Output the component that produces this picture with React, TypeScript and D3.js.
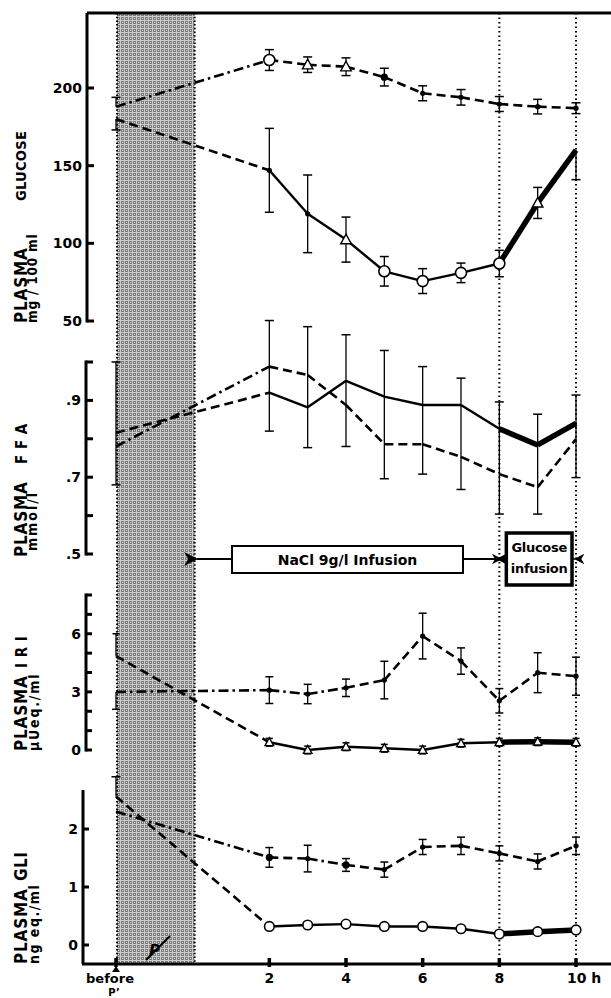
import React from 'react';
import * as d3 from 'd3';

// ---------- DATA ----------
// hour -2 stands for the "before P" sample
const hours = [-2, 2, 3, 4, 5, 6, 7, 8, 9, 10];
const xTickValues = [-2, 2, 4, 6, 8, 10];
const xTickLabels = ['before', '2', '4', '6', '8', '10'];

// Plasma glucose (mg/100 ml)
const glucoseUpper = [188, 218, 215, 213.7, 207, 196.6, 194, 189.7, 188, 187];
const glucoseUpperErrUp = [6, 6.7, 5, 5.7, 5.7, 4.8, 5, 4.8, 4.7, 3.5];
const glucoseUpperErrDown = [0, 6.7, 5, 5.7, 5.7, 4.8, 5, 4.8, 4.7, 3.5];
const glucoseUpperMarkers = ['none', 'circle', 'triangle', 'triangle', 'star', 'dot', 'dot', 'dot', 'dot', 'dot'];

const glucoseLower = [180, 147, 119, 102.4, 82, 75.7, 81, 87, 126, 160];
const glucoseLowerErrUp = [0, 27, 25, 14.5, 9.5, 8, 6.3, 8.5, 10, 0];
const glucoseLowerErrDown = [7, 27, 25, 14.5, 9.5, 8, 6.3, 8.5, 10, 19];
const glucoseLowerMarkers = ['none', 'dot', 'dot', 'triangle', 'circle', 'circle', 'circle', 'circle', 'triangle', 'none'];

// Plasma FFA (mmol/l)
const ffaSolid = [0.816, 0.92, 0.882, 0.951, 0.91, 0.888, 0.888, 0.826, 0.784, 0.84];
const ffaSolidErrUp = [0.184, 0, 0, 0.12, 0.12, 0.1, 0.07, 0.07, 0.08, 0.074];
const ffaSolidErrDown = [0, 0.1, 0.105, 0, 0, 0, 0, 0, 0, 0];
const ffaDashed = [0.78, 0.988, 0.966, 0.888, 0.786, 0.786, 0.753, 0.708, 0.674, 0.799];
const ffaDashedErrUp = [0, 0.12, 0.126, 0, 0, 0, 0, 0, 0, 0];
const ffaDashedErrDown = [0.1, 0, 0, 0.108, 0.09, 0.078, 0.085, 0.104, 0.07, 0.1];

// Plasma IRI (µUeq./ml)
const iriDots = [3.0, 3.09, 2.89, 3.21, 3.61, 5.88, 4.59, 2.54, 3.99, 3.81];
const iriDotsErrUp = [0, 0.69, 0.5, 0.45, 0.97, 1.18, 0.68, 0.63, 1.03, 0.98];
const iriDotsErrDown = [0.9, 0.69, 0.5, 0.45, 0.97, 1.18, 0.68, 0.63, 1.03, 0.98];
const iriDotsMarkers = ['none', 'dot', 'dot', 'dot', 'dot', 'dot', 'dot', 'dot', 'dot', 'dot'];
const iriTri = [4.85, 0.4, 0.0, 0.17, 0.09, 0.0, 0.35, 0.4, 0.43, 0.4];
const iriTriErrUp = [1.15, 0.2, 0.2, 0.2, 0.2, 0.2, 0.2, 0.2, 0.2, 0.2];
const iriTriErrDown = [0, 0.2, 0.2, 0.2, 0.2, 0.2, 0.2, 0.2, 0.2, 0.2];
const iriTriMarkers = ['none', 'triangle', 'triangle', 'triangle', 'triangle', 'triangle', 'triangle', 'triangle', 'triangle', 'triangle'];

// Plasma GLI (ng eq./ml)
const gliDots = [2.3, 1.51, 1.49, 1.38, 1.3, 1.69, 1.71, 1.58, 1.44, 1.71];
const gliDotsErr = [0, 0.17, 0.23, 0.11, 0.13, 0.13, 0.15, 0.13, 0.13, 0.15];
const gliDotsMarkers = ['none', 'star', 'dot', 'star', 'dot', 'dot', 'dot', 'dot', 'dot', 'dot'];
const gliCircles = [2.56, 0.32, 0.345, 0.36, 0.32, 0.32, 0.28, 0.19, 0.23, 0.26];
const gliCirclesErrUp = [0.34, 0, 0, 0, 0, 0, 0, 0, 0, 0];
const gliCirclesMarkers = ['none', 'circle', 'circle', 'circle', 'circle', 'circle', 'circle', 'circle', 'circle', 'circle'];

// line style of each segment between consecutive samples
const segUpperDash = ['dashdot', 'dash', 'dash', 'dash', 'dash', 'dash', 'dash', 'dash', 'dash'];
const segLowerSolid = ['dash', 'thin', 'thin', 'thin', 'thin', 'thin', 'thin', 'thick', 'thick'];
const segIriDots = ['dashdot', 'dashdot', 'dashdot', 'dash', 'dash', 'dash', 'dash', 'dash', 'dash'];
const segGliDots = ['dashdot', 'dash', 'dashdot', 'dash', 'dash', 'dash', 'dash', 'dash', 'dash'];

// ---------- LAYOUT ----------
const W = 611;
const H = 998;
const FONT = "'DejaVu Sans', 'Liberation Sans', sans-serif";
const LFONT = "'DejaVu Sans Condensed', 'DejaVu Sans', sans-serif";

const x = d3.scaleLinear().domain([-2, 10]).range([116, 576]);
const yGlu = d3.scaleLinear().domain([50, 200]).range([321, 88]);
const yFfa = d3.scaleLinear().domain([0.5, 1.0]).range([554, 362]);
const yIri = d3.scaleLinear().domain([0, 8]).range([750, 595]);
const yGli = d3.scaleLinear().domain([0, 2]).range([945, 829]);

const TOP = 13;
const XAXIS_Y = 964;

const styleOf = (s: string) => {
  switch (s) {
    case 'dash':
      return { w: 2.6, dash: '9,5' };
    case 'dashdot':
      return { w: 2.6, dash: '10,4,2.5,4' };
    case 'thick':
      return { w: 5.5, dash: undefined };
    default:
      return { w: 2.4, dash: undefined };
  }
};

function Marker({ type, cx, cy, size }: { type: string; cx: number; cy: number; size: number }) {
  if (type === 'circle') {
    return <circle cx={cx} cy={cy} r={size} fill="white" stroke="black" strokeWidth={1.6} />;
  }
  if (type === 'triangle') {
    const s = size;
    const p = `${cx},${cy - s} ${cx + s * 0.95},${cy + s * 0.75} ${cx - s * 0.95},${cy + s * 0.75}`;
    return <polygon points={p} fill="white" stroke="black" strokeWidth={1.4} />;
  }
  if (type === 'star') {
    return <circle cx={cx} cy={cy} r={3.6} fill="black" />;
  }
  if (type === 'dot') {
    return <circle cx={cx} cy={cy} r={2.6} fill="black" />;
  }
  return null;
}

function Series({
  values,
  scale,
  segs,
  errUp,
  errDown,
  markers,
  msize = 5,
  cap = 9,
}: {
  values: number[];
  scale: d3.ScaleLinear<number, number>;
  segs: string[];
  errUp?: number[];
  errDown?: number[];
  markers?: string[];
  msize?: number;
  cap?: number;
}) {
  const pts = hours.map((h, i) => [x(h), scale(values[i])]);
  return (
    <g>
      {segs.map((s, i) => {
        const st = styleOf(s);
        return (
          <line
            key={'s' + i}
            x1={pts[i][0]}
            y1={pts[i][1]}
            x2={pts[i + 1][0]}
            y2={pts[i + 1][1]}
            stroke="black"
            strokeWidth={st.w}
            strokeDasharray={st.dash}
          />
        );
      })}
      {hours.map((h, i) => {
        const cx = x(h);
        const v = values[i];
        const up = errUp ? errUp[i] : 0;
        const dn = errDown ? errDown[i] : 0;
        const out: any[] = [];
        if (up > 0) {
          const yy = scale(v + up);
          out.push(<line key="u" x1={cx} x2={cx} y1={scale(v)} y2={yy} stroke="black" strokeWidth={1.3} />);
          out.push(<line key="uc" x1={cx - cap / 2} x2={cx + cap / 2} y1={yy} y2={yy} stroke="black" strokeWidth={1.5} />);
        }
        if (dn > 0) {
          const yy = scale(v - dn);
          out.push(<line key="d" x1={cx} x2={cx} y1={scale(v)} y2={yy} stroke="black" strokeWidth={1.3} />);
          out.push(<line key="dc" x1={cx - cap / 2} x2={cx + cap / 2} y1={yy} y2={yy} stroke="black" strokeWidth={1.5} />);
        }
        return <g key={'e' + i}>{out}</g>;
      })}
      {markers &&
        hours.map((h, i) => (
          <Marker key={'m' + i} type={markers[i]} cx={x(h)} cy={scale(values[i])} size={msize} />
        ))}
    </g>
  );
}

function YAxis({
  ax,
  top,
  bottom,
  scale,
  ticks,
  labels,
  fmt,
  tickLen = 7,
}: {
  ax: number;
  top: number;
  bottom: number;
  scale: d3.ScaleLinear<number, number>;
  ticks: number[];
  labels: number[];
  fmt: (v: number) => string;
  tickLen?: number;
}) {
  return (
    <g>
      <line x1={ax} x2={ax} y1={top} y2={bottom} stroke="black" strokeWidth={3} />
      {ticks.map((t, i) => (
        <line key={i} x1={ax} x2={ax + tickLen} y1={scale(t)} y2={scale(t)} stroke="black" strokeWidth={3} />
      ))}
      {labels.map((t, i) => (
        <text
          key={'l' + i}
          x={ax - 5}
          y={scale(t)}
          dy="0.36em"
          textAnchor="end"
          fontFamily={FONT}
          fontWeight="bold"
          fontSize={14}
        >
          {fmt(t)}
        </text>
      ))}
    </g>
  );
}

function VLabel({ xPos, yPos, text, size, spacing = 1 }: { xPos: number; yPos: number; text: string; size: number; spacing?: number }) {
  return (
    <text
      transform={`translate(${xPos},${yPos}) rotate(-90)`}
      fontFamily={LFONT}
      fontWeight="bold"
      fontSize={size}
      letterSpacing={spacing}
    >
      {text}
    </text>
  );
}

export default function App() {
  const ffaTicks = d3.range(0.5, 1.001, 0.1);
  const fmtFfa = (v: number) => d3.format('.1f')(v).replace(/^0/, '');
  const fmtInt = (v: number) => String(v);

  // merged FFA error bars (one vertical line per sample through both curves)
  const ffaBars = hours.map((h, i) => {
    const topV = Math.max(ffaSolid[i] + ffaSolidErrUp[i], ffaDashed[i] + ffaDashedErrUp[i]);
    const botV = Math.min(ffaSolid[i] - ffaSolidErrDown[i], ffaDashed[i] - ffaDashedErrDown[i]);
    return { cx: x(h), y1: yFfa(topV), y2: yFfa(botV) };
  });

  const bandX0 = x(-2) + 1;
  const bandX1 = x(0) + 2;
  const arrowY = 559;
  const naclBox = { x0: 232, x1: 463, y0: 546, y1: 573 };
  const gluBox = { x0: x(8) + 7, x1: x(10) - 4, y0: 533, y1: 585 };

  return (
    <svg
      width={W}
      height={H}
      viewBox={`0 0 ${W} ${H}`}
      style={{ position: 'absolute', left: 0, top: 0, background: 'white' }}
    >
      <defs>
        <pattern id="hatch" width="4" height="4" patternUnits="userSpaceOnUse">
          <rect width="4" height="4" fill="#7c7c7c" />
          <path d="M0,0.5 H4 M0.5,0 V4" stroke="#efefef" strokeWidth="1" opacity="0.7" />
          <rect x="2" y="2" width="1" height="1" fill="#e0e0e0" />
        </pattern>
        <marker id="arrL" viewBox="0 0 10 10" refX="1" refY="5" markerWidth="7" markerHeight="7" orient="auto-start-reverse">
          <path d="M0,5 L10,0 L7,5 L10,10 Z" fill="black" />
        </marker>
      </defs>

      {/* shaded P band */}
      <rect x={bandX0} y={TOP} width={bandX1 - bandX0} height={XAXIS_Y - TOP} fill="url(#hatch)" />
      <line x1={bandX0} x2={bandX0} y1={TOP} y2={XAXIS_Y} stroke="black" strokeWidth={2} strokeDasharray="1.5,2.2" />
      <line x1={bandX1} x2={bandX1} y1={TOP} y2={XAXIS_Y} stroke="black" strokeWidth={2} strokeDasharray="1.5,2.2" />

      {/* dotted lines at 8 h and 10 h */}
      {[8, 10].map((h) => (
        <line key={h} x1={x(h)} x2={x(h)} y1={TOP} y2={XAXIS_Y} stroke="black" strokeWidth={2} strokeDasharray="1.5,3" />
      ))}

      {/* frame top */}
      <line x1={87} x2={W} y1={TOP} y2={TOP} stroke="black" strokeWidth={3} />

      {/* axes */}
      <YAxis ax={87} top={TOP} bottom={yGlu(50) + 1.5} scale={yGlu} ticks={[50, 100, 150, 200]} labels={[50, 100, 150, 200]} fmt={fmtInt} />
      <YAxis ax={86} top={yFfa(1.0) - 1.5} bottom={yFfa(0.5) + 1.5} scale={yFfa} ticks={ffaTicks} labels={[0.9, 0.7, 0.5]} fmt={fmtFfa} />
      <YAxis ax={86} top={yIri(8) - 1.5} bottom={yIri(0) + 1.5} scale={yIri} ticks={d3.range(0, 9)} labels={[0, 3, 6]} fmt={fmtInt} tickLen={6} />
      <YAxis ax={83} top={790} bottom={XAXIS_Y} scale={yGli} ticks={[0, 1, 2]} labels={[0, 1, 2]} fmt={fmtInt} tickLen={6} />

      {/* x axis */}
      <line x1={82} x2={W} y1={XAXIS_Y} y2={XAXIS_Y} stroke="black" strokeWidth={3} />
      {xTickValues.map((t, i) => (
        <g key={i}>
          <line x1={x(t)} x2={x(t)} y1={XAXIS_Y - 6} y2={XAXIS_Y + 3} stroke="black" strokeWidth={3.5} />
          {i === 0 ? (
            <g>
              <polygon
                points={`${x(t)},${XAXIS_Y + 2} ${x(t) + 4},${XAXIS_Y + 8} ${x(t) - 4},${XAXIS_Y + 8}`}
                fill="black"
              />
              <text x={x(t) - 6} y={XAXIS_Y + 19} textAnchor="middle" fontFamily={FONT} fontWeight="bold" fontSize={13}>
                {xTickLabels[i]}
              </text>
              <text x={x(t) - 2} y={XAXIS_Y + 32} textAnchor="middle" fontFamily={FONT} fontWeight="bold" fontSize={10}>
                P’
              </text>
            </g>
          ) : i === xTickLabels.length - 1 ? (
            <text x={x(t) - 9} y={XAXIS_Y + 19} textAnchor="start" fontFamily={FONT} fontWeight="bold" fontSize={14}>
              {xTickLabels[i] + ' h'}
            </text>
          ) : (
            <text x={x(t)} y={XAXIS_Y + 19} textAnchor="middle" fontFamily={FONT} fontWeight="bold" fontSize={14}>
              {xTickLabels[i]}
            </text>
          )}
        </g>
      ))}

      {/* P mark inside band */}
      <text x={149} y={956} fontFamily={FONT} fontWeight="bold" fontStyle="italic" fontSize={15}>
        P
      </text>
      <line x1={146} y1={960} x2={170} y2={936} stroke="black" strokeWidth={2.2} />

      {/* y labels */}
      <VLabel xPos={27} yPos={323} text="PLASMA" size={17} spacing={0.8} />
      <VLabel xPos={26} yPos={201} text="GLUCOSE" size={14.5} spacing={0.3} />
      <VLabel xPos={37} yPos={323} text="mg / 100 ml" size={13.5} spacing={0.8} />

      <VLabel xPos={27} yPos={557} text="PLASMA" size={17} spacing={0.8} />
      <VLabel xPos={27} yPos={464} text="F F A" size={15} spacing={0.5} />
      <VLabel xPos={37} yPos={551} text="mmol/l" size={14} spacing={2} />

      <VLabel xPos={27} yPos={751} text="PLASMA" size={17} spacing={0.8} />
      <VLabel xPos={27} yPos={668} text="I R I" size={15} spacing={0.5} />
      <VLabel xPos={39} yPos={751} text="µUeq./ml" size={14} spacing={1.8} />

      <VLabel xPos={27} yPos={964} text="PLASMA" size={17} spacing={0.8} />
      <VLabel xPos={27} yPos={881} text="GLI" size={17} spacing={0.5} />
      <VLabel xPos={39} yPos={964} text="ng eq./ml" size={14} spacing={1.5} />

      {/* glucose panel */}
      <Series values={glucoseUpper} scale={yGlu} segs={segUpperDash} errUp={glucoseUpperErrUp} errDown={glucoseUpperErrDown} markers={glucoseUpperMarkers} msize={5.5} />
      <Series values={glucoseLower} scale={yGlu} segs={segLowerSolid} errUp={glucoseLowerErrUp} errDown={glucoseLowerErrDown} markers={glucoseLowerMarkers} msize={5.5} />

      {/* FFA panel */}
      {ffaBars.map((b, i) => (
        <g key={'fb' + i}>
          <line x1={b.cx} x2={b.cx} y1={b.y1} y2={b.y2} stroke="black" strokeWidth={1.3} />
          <line x1={b.cx - 4.5} x2={b.cx + 4.5} y1={b.y1} y2={b.y1} stroke="black" strokeWidth={1.5} />
          <line x1={b.cx - 4.5} x2={b.cx + 4.5} y1={b.y2} y2={b.y2} stroke="black" strokeWidth={1.5} />
        </g>
      ))}
      <Series values={ffaSolid} scale={yFfa} segs={segLowerSolid} />
      <Series values={ffaDashed} scale={yFfa} segs={segUpperDash} />

      {/* infusion annotations */}
      <line x1={bandX1 + 2} x2={naclBox.x0} y1={arrowY} y2={arrowY} stroke="black" strokeWidth={2} markerStart="url(#arrL)" />
      <line x1={naclBox.x1} x2={x(8) - 2} y1={arrowY} y2={arrowY} stroke="black" strokeWidth={2} markerEnd="url(#arrL)" />
      <rect x={naclBox.x0} y={naclBox.y0} width={naclBox.x1 - naclBox.x0} height={naclBox.y1 - naclBox.y0} fill="white" stroke="black" strokeWidth={2} />
      <text x={(naclBox.x0 + naclBox.x1) / 2} y={(naclBox.y0 + naclBox.y1) / 2} dy="0.36em" textAnchor="middle" fontFamily={FONT} fontWeight="bold" fontSize={14}>
        NaCl 9g/l Infusion
      </text>
      <line x1={x(8) + 2} x2={gluBox.x0} y1={arrowY} y2={arrowY} stroke="black" strokeWidth={1.5} markerStart="url(#arrL)" />
      <line x1={gluBox.x1} x2={x(10) - 1} y1={arrowY} y2={arrowY} stroke="black" strokeWidth={1.5} markerEnd="url(#arrL)" />
      <rect x={gluBox.x0} y={gluBox.y0} width={gluBox.x1 - gluBox.x0} height={gluBox.y1 - gluBox.y0} fill="white" stroke="black" strokeWidth={3.5} />
      <text x={(gluBox.x0 + gluBox.x1) / 2} y={gluBox.y0 + 19} textAnchor="middle" fontFamily={FONT} fontWeight="bold" fontSize={13} letterSpacing={-0.3}>
        Glucose
      </text>
      <text x={(gluBox.x0 + gluBox.x1) / 2} y={gluBox.y0 + 40} textAnchor="middle" fontFamily={FONT} fontWeight="bold" fontSize={13} letterSpacing={-0.3}>
        infusion
      </text>

      {/* IRI panel */}
      <Series values={iriDots} scale={yIri} segs={segIriDots} errUp={iriDotsErrUp} errDown={iriDotsErrDown} markers={iriDotsMarkers} cap={8} />
      <Series values={iriTri} scale={yIri} segs={segLowerSolid} errUp={iriTriErrUp} errDown={iriTriErrDown} markers={iriTriMarkers} msize={4.5} cap={7} />

      {/* GLI panel */}
      <Series values={gliDots} scale={yGli} segs={segGliDots} errUp={gliDotsErr} errDown={gliDotsErr} markers={gliDotsMarkers} cap={8} />
      <Series values={gliCircles} scale={yGli} segs={segLowerSolid} errUp={gliCirclesErrUp} markers={gliCirclesMarkers} msize={4.8} />
    </svg>
  );
}
